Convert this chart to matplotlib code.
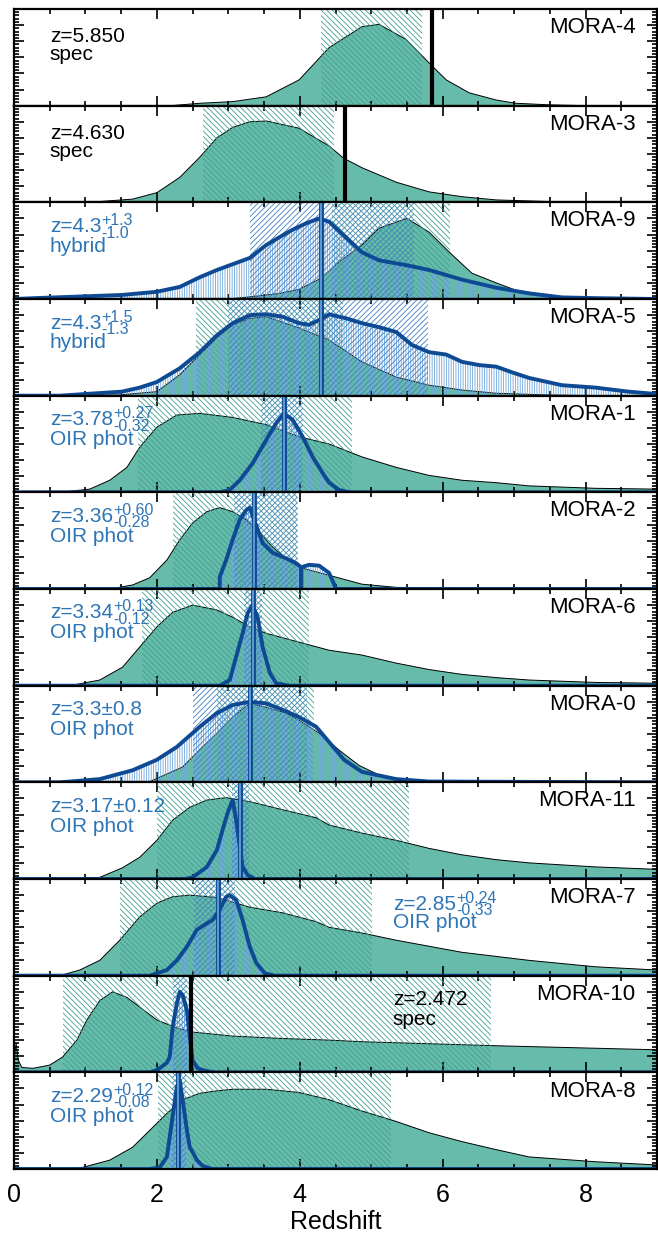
import numpy as np
import matplotlib.pyplot as plt
from matplotlib.ticker import MultipleLocator

plt.rcParams['font.family'] = ['Liberation Sans', 'DejaVu Sans']
plt.rcParams['hatch.linewidth'] = 0.6

# panel order, top to bottom
names = ['MORA-4', 'MORA-3', 'MORA-9', 'MORA-5', 'MORA-1', 'MORA-2',
         'MORA-6', 'MORA-0', 'MORA-11', 'MORA-7', 'MORA-10', 'MORA-8']

# submm photometric redshift PDFs (teal)
mora4_z = [0, 2.2, 2.6, 3.06, 3.53, 3.99, 4.41, 4.87, 5.11, 5.49, 5.81, 6.05, 6.37, 6.75, 7.02, 7.5, 8.0, 9.0]
mora4_p = [0, 0, 0.03, 0.05, 0.11, 0.32, 0.72, 0.98, 1.01, 0.82, 0.53, 0.32, 0.16, 0.07, 0.03, 0.01, 0, 0]
mora3_z = [0, 1.2, 1.66, 2.0, 2.32, 2.6, 2.84, 3.06, 3.3, 3.53, 3.99, 4.41, 4.61, 4.87, 5.35, 5.81, 6.27, 6.75, 7.49, 8.2, 9.0]
mora3_p = [0, 0.01, 0.04, 0.12, 0.31, 0.56, 0.8, 0.93, 1.0, 1.01, 0.92, 0.7, 0.55, 0.43, 0.25, 0.13, 0.07, 0.03, 0.01, 0, 0]
mora9_z = [0, 3.0, 3.44, 3.72, 3.99, 4.3, 4.55, 4.87, 5.11, 5.5, 5.81, 6.13, 6.41, 6.75, 7.02, 7.44, 7.9, 9.0]
mora9_p = [0, 0, 0.04, 0.07, 0.12, 0.26, 0.46, 0.67, 0.88, 1.0, 0.83, 0.55, 0.32, 0.2, 0.11, 0.05, 0.01, 0]
mora5_z = [0, 1.48, 2.0, 2.32, 2.6, 2.84, 3.06, 3.3, 3.53, 3.76, 3.99, 4.41, 4.87, 5.35, 5.81, 6.27, 6.75, 7.44, 8.2, 9.0]
mora5_p = [0, 0.01, 0.05, 0.26, 0.51, 0.72, 0.88, 0.96, 0.98, 0.91, 0.84, 0.69, 0.42, 0.23, 0.13, 0.07, 0.03, 0.01, 0, 0]
mora1_z = [0, 0.64, 1.06, 1.34, 1.58, 1.76, 2.0, 2.28, 2.6, 3.06, 3.53, 3.99, 4.41, 4.87, 5.35, 5.81, 6.27, 6.75, 7.21, 8.14, 9.0]
mora1_p = [0, 0, 0.04, 0.15, 0.31, 0.56, 0.81, 0.96, 0.98, 0.93, 0.84, 0.69, 0.6, 0.44, 0.31, 0.21, 0.15, 0.12, 0.08, 0.05, 0.04]
mora2_z = [0, 1.34, 1.66, 1.9, 2.14, 2.32, 2.5, 2.7, 2.88, 3.06, 3.25, 3.44, 3.62, 3.81, 3.99, 4.41, 4.87, 5.35, 6.23, 7.0, 9.0]
mora2_p = [0, 0, 0.05, 0.14, 0.36, 0.61, 0.82, 0.96, 1.01, 0.96, 0.86, 0.7, 0.52, 0.38, 0.27, 0.17, 0.06, 0.02, 0.01, 0.005, 0.005]
mora6_z = [0, 0.78, 1.2, 1.52, 1.76, 2.0, 2.22, 2.5, 2.84, 3.06, 3.3, 3.53, 3.99, 4.41, 4.87, 5.35, 5.81, 6.27, 6.75, 7.21, 8.14, 9.0]
mora6_p = [0, 0, 0.07, 0.23, 0.48, 0.73, 0.91, 1.0, 0.94, 0.85, 0.73, 0.65, 0.54, 0.44, 0.38, 0.28, 0.2, 0.14, 0.1, 0.07, 0.04, 0.03]
mora0_z = [0, 1.9, 2.36, 2.64, 2.84, 3.06, 3.3, 3.53, 3.81, 3.99, 4.27, 4.55, 4.83, 5.11, 5.39, 5.8, 9.0]
mora0_p = [0, 0.01, 0.19, 0.44, 0.61, 0.81, 0.98, 0.93, 0.86, 0.77, 0.61, 0.4, 0.21, 0.09, 0.03, 0, 0]
mora11_z = [0, 0.78, 1.2, 1.52, 1.76, 2.0, 2.22, 2.46, 2.7, 2.97, 3.3, 3.76, 4.23, 4.41, 4.87, 5.35, 5.81, 6.27, 6.75, 7.21, 8.14, 9.0]
mora11_p = [0, 0, 0.02, 0.14, 0.27, 0.48, 0.73, 0.89, 0.98, 1.01, 0.96, 0.86, 0.76, 0.67, 0.57, 0.48, 0.38, 0.3, 0.24, 0.2, 0.15, 0.12]
mora7_z = [0, 0.64, 0.92, 1.2, 1.48, 1.76, 2.0, 2.22, 2.46, 2.84, 3.3, 3.76, 4.23, 4.41, 4.87, 5.35, 6.27, 7.21, 8.14, 9.0]
mora7_p = [0, 0, 0.07, 0.19, 0.44, 0.73, 0.9, 0.98, 1.0, 0.97, 0.85, 0.78, 0.67, 0.6, 0.53, 0.44, 0.29, 0.19, 0.11, 0.07]
mora10_z = [0, 0.03, 0.06, 0.11, 0.27, 0.5, 0.68, 0.88, 1.02, 1.2, 1.38, 1.58, 1.76, 2.0, 2.28, 2.5, 3.06, 3.76, 4.41, 4.87, 6.75, 9.0]
mora10_p = [0.18, 0.36, 0.15, 0.06, 0.05, 0.09, 0.19, 0.4, 0.65, 0.89, 1.0, 0.93, 0.81, 0.65, 0.55, 0.5, 0.45, 0.42, 0.4, 0.38, 0.33, 0.28]
mora8_z = [0, 0.64, 0.96, 1.34, 1.66, 1.9, 2.14, 2.36, 2.6, 2.84, 3.06, 3.53, 3.99, 4.41, 4.87, 5.35, 5.81, 6.27, 6.75, 7.21, 8.14, 9.0]
mora8_p = [0, 0, 0.02, 0.11, 0.27, 0.48, 0.69, 0.86, 0.94, 0.97, 0.99, 0.99, 0.95, 0.86, 0.72, 0.59, 0.45, 0.34, 0.24, 0.15, 0.09, 0.05]

# optical/IR (or hybrid) PDFs (blue)
mora9_oir_z = [0, 0.27, 1.51, 2.0, 2.32, 2.6, 2.84, 3.3, 3.53, 3.76, 3.9, 4.09, 4.27, 4.41, 4.65, 4.87, 5.11, 5.49, 5.81, 6.27, 6.75, 7.21, 7.67, 8.18, 9.0]
mora9_oir_p = [0, 0.01, 0.05, 0.09, 0.15, 0.27, 0.36, 0.51, 0.67, 0.79, 0.86, 0.94, 1.0, 0.96, 0.76, 0.58, 0.48, 0.42, 0.36, 0.24, 0.14, 0.07, 0.02, 0.01, 0]
mora5_oir_z = [0, 0.64, 1.51, 1.76, 2.0, 2.32, 2.6, 2.84, 3.06, 3.3, 3.53, 3.76, 3.99, 4.13, 4.32, 4.41, 4.65, 4.87, 5.11, 5.35, 5.57, 5.81, 6.05, 6.27, 6.51, 6.75, 6.97, 7.21, 7.67, 8.14, 8.6, 9.0]
mora5_oir_p = [0, 0, 0.05, 0.1, 0.17, 0.34, 0.54, 0.75, 0.9, 1.0, 1.01, 0.98, 0.9, 0.88, 0.96, 1.01, 0.96, 0.9, 0.85, 0.79, 0.63, 0.54, 0.51, 0.42, 0.38, 0.36, 0.29, 0.22, 0.13, 0.1, 0.05, 0.02]
mora1_oir_z = [0, 2.88, 3.02, 3.16, 3.34, 3.53, 3.67, 3.78, 3.9, 4.04, 4.18, 4.32, 4.41, 4.55, 4.7, 9.0]
mora1_oir_p = [0, 0, 0.03, 0.15, 0.36, 0.65, 0.86, 0.98, 0.9, 0.69, 0.44, 0.24, 0.12, 0.03, 0, 0]
mora2_oir_z = [0, 2.88, 2.88, 2.97, 3.06, 3.16, 3.25, 3.3, 3.39, 3.48, 3.62, 3.81, 3.95, 4.02, 4.02, 4.02, 4.13, 4.27, 4.41, 4.5, 4.5, 9.0]
mora2_oir_p = [0, 0, 0.15, 0.36, 0.61, 0.86, 0.98, 1.01, 0.79, 0.57, 0.45, 0.38, 0.32, 0.27, 0, 0.27, 0.3, 0.29, 0.2, 0.02, 0, 0]
mora6_oir_z = [0, 2.88, 3.02, 3.11, 3.2, 3.27, 3.34, 3.41, 3.48, 3.58, 3.67, 3.85, 9.0]
mora6_oir_p = [0, 0, 0.07, 0.36, 0.65, 0.9, 1.0, 0.85, 0.48, 0.16, 0.03, 0, 0]
mora0_oir_z = [0, 0.64, 1.2, 1.66, 2.0, 2.28, 2.6, 2.84, 3.06, 3.3, 3.53, 3.76, 3.99, 4.23, 4.41, 4.62, 4.87, 5.35, 5.81, 9.0]
mora0_oir_p = [0, 0, 0.04, 0.15, 0.28, 0.44, 0.69, 0.86, 0.96, 1.0, 0.98, 0.9, 0.81, 0.69, 0.5, 0.28, 0.13, 0.04, 0.01, 0]
mora11_oir_z = [0, 2.39, 2.5, 2.7, 2.84, 2.92, 2.99, 3.06, 3.11, 3.16, 3.2, 3.27, 3.37, 9.0]
mora11_oir_p = [0, 0, 0.02, 0.15, 0.36, 0.61, 0.82, 0.98, 0.73, 0.4, 0.15, 0.05, 0, 0]
mora7_oir_z = [0, 1.9, 2.14, 2.28, 2.42, 2.56, 2.7, 2.78, 2.88, 2.97, 3.02, 3.11, 3.2, 3.3, 3.39, 3.51, 3.65, 9.0]
mora7_oir_p = [0, 0, 0.07, 0.19, 0.36, 0.57, 0.65, 0.69, 0.82, 0.98, 1.0, 0.94, 0.69, 0.36, 0.16, 0.03, 0, 0]
mora10_oir_z = [0, 1.9, 2.01, 2.14, 2.18, 2.22, 2.28, 2.32, 2.36, 2.42, 2.46, 2.5, 2.57, 2.67, 2.8, 9.0]
mora10_oir_p = [0, 0, 0.03, 0.12, 0.19, 0.56, 0.86, 1.0, 0.96, 0.77, 0.44, 0.15, 0.05, 0.02, 0, 0]
mora8_oir_z = [0, 1.9, 2.04, 2.14, 2.18, 2.22, 2.28, 2.32, 2.36, 2.42, 2.46, 2.5, 2.56, 2.64, 2.77, 9.0]
mora8_oir_p = [0, 0, 0.02, 0.15, 0.4, 0.65, 1.02, 1.1, 0.86, 0.48, 0.27, 0.21, 0.11, 0.04, 0, 0]

# 68% intervals of the teal PDFs
teal_lo = [4.30, 2.64, 4.45, 2.55, 1.73, 2.22, 1.79, 2.84, 2.00, 1.48, 0.68, 2.01]
teal_hi = [5.71, 4.48, 6.10, 4.60, 4.73, 3.97, 4.13, 4.20, 5.53, 5.01, 6.68, 5.28]

# spectroscopic redshifts (None where there is none)
spec_z = [5.850, 4.630, None, None, None, None, None, None, None, None, 2.472, None]

# OIR / hybrid best estimates and errors
oir_z = [None, None, 4.3, 4.3, 3.78, 3.36, 3.34, 3.3, 3.17, 2.85, None, 2.29]
oir_lo = [None, None, 1.0, 1.3, 0.32, 0.28, 0.12, 0.8, 0.12, 0.33, None, 0.08]
oir_hi = [None, None, 1.3, 1.5, 0.27, 0.60, 0.13, 0.8, 0.12, 0.24, None, 0.12]
mora10_oir_lo, mora10_oir_hi = 2.22, 2.42

# label text: main part, superscript, subscript, second line
label_main = ['z=5.850', 'z=4.630', 'z=4.3', 'z=4.3', 'z=3.78', 'z=3.36', 'z=3.34',
              'z=3.3±0.8', 'z=3.17±0.12', 'z=2.85', 'z=2.472', 'z=2.29']
label_sup = ['', '', '+1.3', '+1.5', '+0.27', '+0.60', '+0.13', '', '', '+0.24', '', '+0.12']
label_sub = ['', '', '-1.0', '-1.3', '-0.32', '-0.28', '-0.12', '', '', '-0.33', '', '-0.08']
label_l2 = ['spec', 'spec', 'hybrid', 'hybrid', 'OIR phot', 'OIR phot', 'OIR phot',
            'OIR phot', 'OIR phot', 'OIR phot', 'spec', 'OIR phot']
label_x = [0.5, 0.5, 0.5, 0.5, 0.5, 0.5, 0.5, 0.5, 0.5, 5.3, 5.3, 0.5]
label_y1 = [0.66, 0.66, 0.69, 0.69, 0.695, 0.695, 0.695, 0.695, 0.695, 0.68, 0.70, 0.695]
label_y2 = [0.47, 0.47, 0.49, 0.49, 0.49, 0.49, 0.49, 0.49, 0.49, 0.49, 0.49, 0.49]

teal_z = [mora4_z, mora3_z, mora9_z, mora5_z, mora1_z, mora2_z,
          mora6_z, mora0_z, mora11_z, mora7_z, mora10_z, mora8_z]
teal_p = [mora4_p, mora3_p, mora9_p, mora5_p, mora1_p, mora2_p,
          mora6_p, mora0_p, mora11_p, mora7_p, mora10_p, mora8_p]
blue_z = [None, None, mora9_oir_z, mora5_oir_z, mora1_oir_z, mora2_oir_z,
          mora6_oir_z, mora0_oir_z, mora11_oir_z, mora7_oir_z, mora10_oir_z, mora8_oir_z]
blue_p = [None, None, mora9_oir_p, mora5_oir_p, mora1_oir_p, mora2_oir_p,
          mora6_oir_p, mora0_oir_p, mora11_oir_p, mora7_oir_p, mora10_oir_p, mora8_oir_p]

teal = '#66bbaa'
teal_hatch = '#3f9f8f'
dark_blue = '#0d4a93'
mid_blue = '#3f7fc4'
light_blue = '#6ea7dc'
text_blue = '#2e75b6'

fig, axes = plt.subplots(12, 1, figsize=(6.58, 12.43), dpi=100, sharex=True)
fig.subplots_adjust(left=14 / 658, right=657 / 658, top=1 - 9 / 1243,
                    bottom=1 - 1169 / 1243, hspace=0)

for i, ax in enumerate(axes):
    z = np.array(teal_z[i])
    p = np.array(teal_p[i])
    ax.fill_between(z, 0, p, facecolor=teal, edgecolor='none', zorder=1)
    ax.plot(z, p, color='black', lw=0.7, zorder=2)
    ax.axvspan(teal_lo[i], teal_hi[i], facecolor='none', edgecolor=teal_hatch,
               hatch='\\' * 6, linewidth=0, zorder=3)

    if blue_z[i] is not None:
        bz = np.array(blue_z[i])
        bp = np.array(blue_p[i])
        ax.fill_between(bz, 0, bp, facecolor='none', edgecolor=light_blue,
                        hatch='|' * 7, linewidth=0, zorder=4)
        if oir_z[i] is not None:
            lo, hi = oir_z[i] - oir_lo[i], oir_z[i] + oir_hi[i]
        else:
            lo, hi = mora10_oir_lo, mora10_oir_hi
        ax.axvspan(lo, hi, facecolor='none', edgecolor=mid_blue,
                   hatch='/' * 6, linewidth=0, zorder=4)
        ax.plot(bz, bp, color=dark_blue, lw=2.8, zorder=6, solid_joinstyle='round')
        if oir_z[i] is not None:
            ax.axvline(oir_z[i], color=dark_blue, lw=3.5, zorder=6)
            ax.axvline(oir_z[i], color=light_blue, lw=1.2, zorder=6)

    if spec_z[i] is not None:
        ax.axvline(spec_z[i], color='black', lw=3, zorder=7)

    is_spec = (spec_z[i] is not None and blue_z[i] is None) or names[i] == 'MORA-10'
    tcolor = 'black' if is_spec else text_blue
    tr = ax.get_xaxis_transform()
    main = ax.text(label_x[i], label_y1[i], label_main[i], transform=tr,
                   fontsize=15, color=tcolor, va='baseline', ha='left', zorder=9)
    if label_sup[i]:
        ax.annotate(label_sup[i], xy=(1, 0), xycoords=main, xytext=(0.5, 11),
                    textcoords='offset pixels', fontsize=11.5, color=tcolor,
                    va='baseline', ha='left', zorder=9)
        ax.annotate(label_sub[i], xy=(1, 0), xycoords=main, xytext=(0.5, -1.5),
                    textcoords='offset pixels', fontsize=11.5, color=tcolor,
                    va='baseline', ha='left', zorder=9)
    ax.text(label_x[i], label_y2[i], label_l2[i], transform=tr,
            fontsize=15, color=tcolor, va='baseline', ha='left', zorder=9)
    ax.text(8.7, 0.75, names[i], transform=tr,
            fontsize=16, color='black', va='baseline', ha='right', zorder=9)

    ax.set_xlim(0, 9)
    ax.set_ylim(0, 1.2)
    ax.xaxis.set_major_locator(MultipleLocator(2))
    ax.xaxis.set_minor_locator(MultipleLocator(0.5))
    ax.yaxis.set_major_locator(MultipleLocator(0.2))
    ax.yaxis.set_minor_locator(MultipleLocator(0.04))
    ax.tick_params(which='both', direction='in', top=True, right=True,
                   labelleft=False, width=1.2)
    ax.tick_params(which='major', length=7)
    ax.tick_params(which='minor', length=3.5)
    for s in ax.spines.values():
        s.set_linewidth(1.6)
        s.set_zorder(8)

axes[-1].tick_params(axis='x', labelsize=18, pad=10)
axes[-1].set_xlabel('Redshift', fontsize=18, labelpad=2)

fig.savefig('out.png', dpi=100)
